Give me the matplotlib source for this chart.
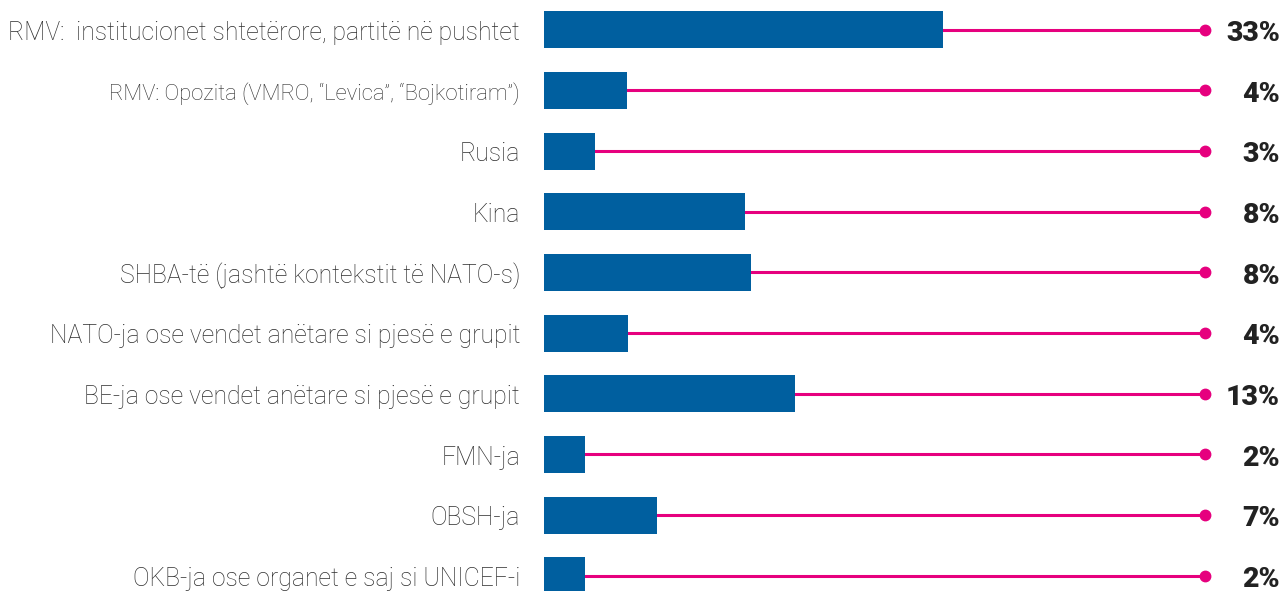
import matplotlib.pyplot as plt
import matplotlib.transforms as mtransforms

categories = [
    "RMV:  institucionet shtetërore, partitë në pushtet",
    "RMV: Opozita (VMRO, “Levica”, “Bojkotiram”)",
    "Rusia",
    "Kina",
    "SHBA-të (jashtë kontekstit të NATO-s)",
    "NATO-ja ose vendet anëtare si pjesë e grupit",
    "BE-ja ose vendet anëtare si pjesë e grupit",
    "FMN-ja",
    "OBSH-ja",
    "OKB-ja ose organet e saj si UNICEF-i",
]
bar_values = [33.1, 6.9, 4.2, 16.7, 17.2, 7.0, 20.8, 3.4, 9.4, 3.4]
pct_labels = ["33%", "4%", "3%", "8%", "8%", "4%", "13%", "2%", "7%", "2%"]

BLUE = "#005f9f"
PINK = "#e6007e"
TEXT = "#2e2e2e"

plt.rcParams['font.family'] = ['Roboto', 'DejaVu Sans']

fig = plt.figure(figsize=(12.83, 5.91), dpi=100)
ax = fig.add_axes([544 / 1283, 0, (1205 - 544) / 1283, 1])
xmax = 54.8
ax.set_xlim(0, xmax)
ax.set_ylim(9.25, -0.49)
ax.axis('off')

ys = list(range(len(categories)))
ax.hlines(ys, 0, xmax, color=PINK, lw=2.2, zorder=1)
ax.plot([xmax] * len(ys), ys, 'o', color=PINK, ms=7.5, zorder=3, clip_on=False)
ax.barh(ys, bar_values, height=0.61, color=BLUE, zorder=2)

trans = mtransforms.blended_transform_factory(fig.transFigure, ax.transData)
for i, (cat, lab) in enumerate(zip(categories, pct_labels)):
    fs = 15.8 if i == 1 else 17.8
    ax.text(520 / 1283, i + 0.05, cat, transform=trans, ha='right', va='center',
            fontsize=fs, fontweight='light', color=TEXT)
    ax.text(1280 / 1283, i + 0.06, lab, transform=trans, ha='right', va='center',
            fontsize=20.5, fontweight='black', color="#222222")

fig.savefig("out.png", dpi=100)
